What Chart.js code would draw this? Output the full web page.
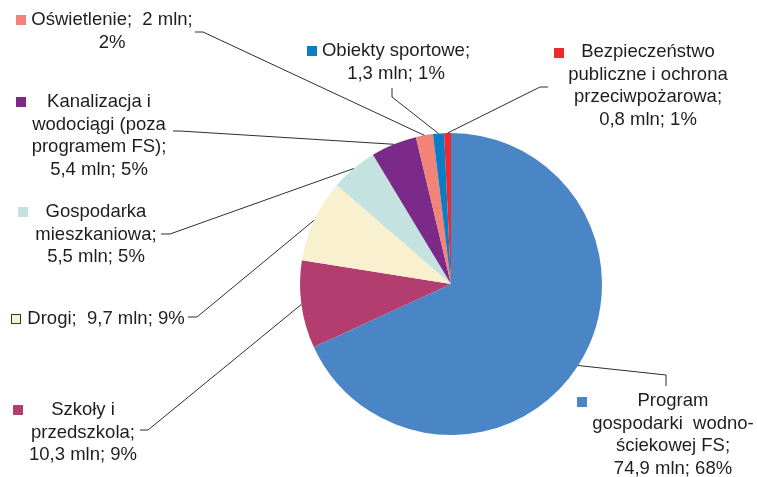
<!DOCTYPE html>
<html>
<head>
<meta charset="utf-8">
<script src="https://cdn.jsdelivr.net/npm/chart.js@4/dist/chart.umd.min.js"></script>
<style>
html,body{margin:0;padding:0;background:#fff;}
#wrap{width:757px;height:477px;position:relative;}
</style>
</head>
<body>
<div id="wrap"><canvas id="c" width="757" height="477"></canvas></div>
<script>
// ---- data ----
const categories = [
  'Program gospodarki wodno-ściekowej FS',
  'Szkoły i przedszkola',
  'Drogi',
  'Gospodarka mieszkaniowa',
  'Kanalizacja i wodociągi (poza programem FS)',
  'Oświetlenie',
  'Obiekty sportowe',
  'Bezpieczeństwo publiczne i ochrona przeciwpożarowa'
];
const values = [74.9, 10.3, 9.7, 5.5, 5.4, 2, 1.3, 0.8];
const valueTexts = ['74,9 mln', '10,3 mln', '9,7 mln', '5,5 mln', '5,4 mln', '2 mln', '1,3 mln', '0,8 mln'];
const percentTexts = ['68%', '9%', '9%', '5%', '5%', '2%', '1%', '1%'];
// label text as wrapped in the picture
const labelLines = [
  ['Program', 'gospodarki  wodno-', 'ściekowej FS;', '74,9 mln; 68%'],
  ['Szkoły i', 'przedszkola;', '10,3 mln; 9%'],
  ['Drogi;  9,7 mln; 9%'],
  ['Gospodarka', 'mieszkaniowa;', '5,5 mln; 5%'],
  ['Kanalizacja i', 'wodociągi (poza', 'programem FS);', '5,4 mln; 5%'],
  ['Oświetlenie;  2 mln;', '2%'],
  ['Obiekty sportowe;', '1,3 mln; 1%'],
  ['Bezpieczeństwo', 'publiczne i ochrona', 'przeciwpożarowa;', '0,8 mln; 1%']
];
const colors = ['#4a86c6', '#b33d6e', '#f8f0cf', '#c4e2e0', '#7b2a89', '#f28379', '#0b7dc5', '#ee2a2e'];

// ---- label layout (positions only) ----
const labelLayout = [
  {cx: 673, y: 401, key: [577, 397], leader: [[666, 386], [666, 375]]},
  {cx: 83,  y: 410, key: [13, 405],  leader: [[140, 430], [148, 430]]},
  {cx: 106, y: 319, key: [11, 314],  leader: [[188, 317], [197, 317]], keyBorder: true},
  {cx: 96,  y: 212, key: [18, 207],  leader: [[161, 234], [170, 234]]},
  {cx: 99,  y: 102, key: [16, 97],   leader: [[173, 131], [180, 131]]},
  {cx: 112, y: 20,  key: [16, 15],   leader: [[195, 32], [203, 32]]},
  {cx: 396, y: 51,  key: [307, 46],  leader: [[392, 88], [392, 97]]},
  {cx: 648, y: 52,  key: [554, 48],  leader: [[548, 87], [540, 87]]}
];

const labelPlugin = {
  id: 'pieLabels',
  afterDraw(chart) {
    const ctx = chart.ctx;
    const meta = chart.getDatasetMeta(0);
    ctx.save();
    meta.data.forEach((arc, i) => {
      const L = labelLayout[i];
      const mid = (arc.startAngle + arc.endAngle) / 2;
      const px = arc.x + Math.cos(mid) * arc.outerRadius;
      const py = arc.y + Math.sin(mid) * arc.outerRadius;
      // leader line
      ctx.strokeStyle = '#2e2e2e';
      ctx.lineWidth = 1;
      ctx.beginPath();
      ctx.moveTo(L.leader[0][0], L.leader[0][1]);
      for (let k = 1; k < L.leader.length; k++) ctx.lineTo(L.leader[k][0], L.leader[k][1]);
      ctx.lineTo(px, py);
      ctx.stroke();
      // key square
      ctx.fillStyle = colors[i];
      ctx.fillRect(L.key[0], L.key[1], 10, 10);
      if (L.keyBorder) {
        ctx.strokeStyle = '#333';
        ctx.strokeRect(L.key[0] + 0.5, L.key[1] + 0.5, 9, 9);
      }
      // text
      ctx.fillStyle = '#1e1e1e';
      ctx.font = '18.5px "Liberation Sans", Arial, sans-serif';
      ctx.textAlign = 'center';
      ctx.textBaseline = 'middle';
      labelLines[i].forEach((t, j) => {
        ctx.fillText(t, L.cx, L.y + j * 22.7);
      });
    });
    ctx.restore();
  }
};

new Chart(document.getElementById('c'), {
  type: 'pie',
  data: {
    labels: categories,
    datasets: [{
      data: values,
      backgroundColor: colors,
      borderWidth: 0
    }]
  },
  options: {
    responsive: false,
    animation: false,
    layout: {padding: {left: 300, right: 155, top: 133, bottom: 42}},
    plugins: {
      legend: {display: false},
      tooltip: {enabled: false}
    }
  },
  plugins: [labelPlugin]
});
</script>
</body>
</html>
